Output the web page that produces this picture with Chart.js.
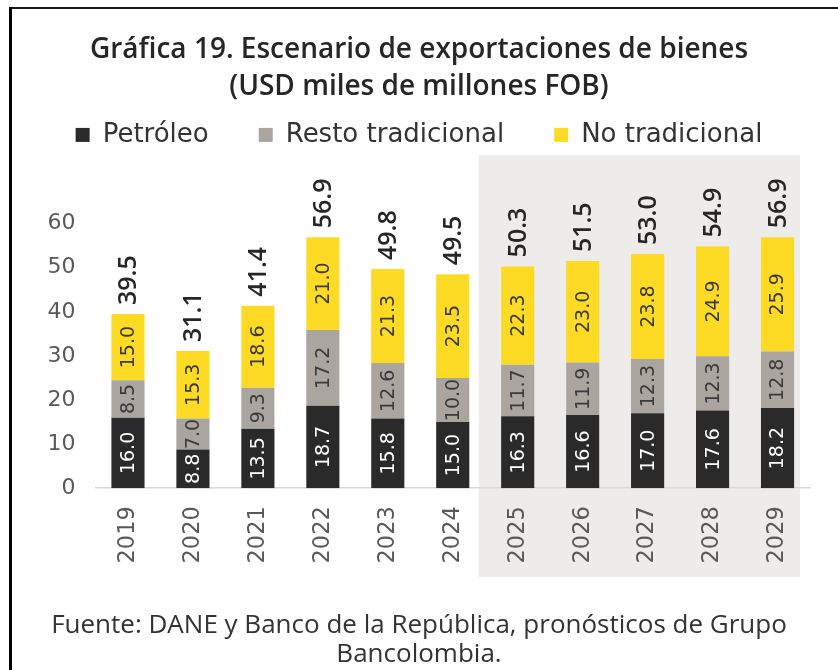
<!DOCTYPE html>
<html>
<head>
<meta charset="utf-8">
<script src="https://cdn.jsdelivr.net/npm/chart.js@4"></script>
<style>
  html, body { margin: 0; padding: 0; background: #fff; }
  #wrap { position: relative; width: 838px; height: 670px; overflow: hidden; }
  #c { position: absolute; left: 0; top: 0; }
  .frameTop { position: absolute; left: 9px; top: 7px; width: 829px; height: 2px; background: #1a1a1a; }
  .frameLeft { position: absolute; left: 9px; top: 7px; width: 3px; height: 663px; background: #000; }
</style>
</head>
<body>
<div id="wrap">
  <canvas id="c" width="838" height="670"></canvas>
  <div class="frameTop"></div>
  <div class="frameLeft"></div>
</div>
<script>
const categories = ['2019', '2020', '2021', '2022', '2023', '2024', '2025', '2026', '2027', '2028', '2029'];
const petroleo = [16.0, 8.8, 13.5, 18.7, 15.8, 15.0, 16.3, 16.6, 17.0, 17.6, 18.2];
const restoTradicional = [8.5, 7.0, 9.3, 17.2, 12.6, 10.0, 11.7, 11.9, 12.3, 12.3, 12.8];
const noTradicional = [15.0, 15.3, 18.6, 21.0, 21.3, 23.5, 22.3, 23.0, 23.8, 24.9, 25.9];
const totals = [39.5, 31.1, 41.4, 56.9, 49.8, 49.5, 50.3, 51.5, 53.0, 54.9, 56.9];
const yTicks = [0, 10, 20, 30, 40, 50, 60];
const yAxisMax = 74.9;
const forecastFirst = '2025';
const forecastLast = '2029';

const seriesNames = ['Petróleo', 'Resto tradicional', 'No tradicional'];
const seriesColors = ['#2a2a2a', '#aaa59f', '#fddb24'];
const labelColors = ['#ffffff', '#3a3a3a', '#3a3a3a'];

const forecastShade = {
  id: 'forecastShade',
  beforeDraw(chart) {
    const ctx = chart.ctx;
    const x = chart.scales.x;
    const i0 = categories.indexOf(forecastFirst);
    const i1 = categories.indexOf(forecastLast);
    const left = x.getPixelForValue(i0) - 39;
    const right = x.getPixelForValue(i1) + 22.5;
    ctx.save();
    ctx.fillStyle = '#edecea';
    ctx.fillRect(left, 155, right - left, 422);
    ctx.restore();
  }
};

const barLabels = {
  id: 'barLabels',
  afterDatasetsDraw(chart) {
    const ctx = chart.ctx;
    ctx.save();
    chart.data.datasets.forEach((ds, di) => {
      const meta = chart.getDatasetMeta(di);
      meta.data.forEach((bar, i) => {
        const v = ds.data[i];
        const cy = (bar.y + bar.base) / 2;
        ctx.save();
        ctx.translate(bar.x, cy);
        ctx.rotate(-Math.PI / 2);
        ctx.font = '19px "DejaVu Sans"';
        ctx.fillStyle = labelColors[di];
        ctx.textAlign = 'center';
        ctx.textBaseline = 'middle';
        ctx.fillText(v.toFixed(1), 0, 1);
        ctx.restore();
      });
    });
    const lastMeta = chart.getDatasetMeta(chart.data.datasets.length - 1);
    lastMeta.data.forEach((bar, i) => {
      ctx.save();
      ctx.translate(bar.x, bar.y - 9);
      ctx.rotate(-Math.PI / 2);
      ctx.font = '600 25px "Open Sans"';
      ctx.fillStyle = '#262626';
      ctx.textAlign = 'left';
      ctx.textBaseline = 'middle';
      ctx.fillText(totals[i].toFixed(1), 0, 1);
      ctx.restore();
    });
    ctx.restore();
  }
};

new Chart(document.getElementById('c'), {
  type: 'bar',
  data: {
    labels: categories,
    datasets: [
      { label: seriesNames[0], data: petroleo, backgroundColor: seriesColors[0] },
      { label: seriesNames[1], data: restoTradicional, backgroundColor: seriesColors[1] },
      { label: seriesNames[2], data: noTradicional, backgroundColor: seriesColors[2] }
    ]
  },
  options: {
    responsive: false,
    animation: false,
    devicePixelRatio: 1,
    layout: { padding: { left: 8, right: 8, top: 0, bottom: 0 } },
    datasets: { bar: { barPercentage: 0.51, categoryPercentage: 1.0 } },
    scales: {
      x: {
        stacked: true,
        grid: { display: false, drawTicks: false },
        border: { display: true, color: '#d9d9d9', width: 1.5 },
        ticks: {
          minRotation: 90, maxRotation: 90, padding: 18,
          color: '#595959', font: { family: 'DejaVu Sans', size: 22.5 }
        },
        afterFit(scale) { scale.height = 110; }
      },
      y: {
        stacked: true,
        min: 0, max: yAxisMax,
        grid: { display: false, drawTicks: false },
        border: { display: false },
        afterBuildTicks(scale) { scale.ticks = yTicks.map(v => ({ value: v })); },
        ticks: {
          padding: 20,
          color: '#595959', font: { family: 'DejaVu Sans', size: 22 }
        },
        afterFit(scale) { scale.width = 87.5; }
      },
      yRight: {
        position: 'right',
        display: true,
        grid: { display: false, drawTicks: false },
        border: { display: false },
        ticks: { display: false },
        afterFit(scale) { scale.width = 20; }
      }
    },
    plugins: {
      tooltip: { enabled: false },
      title: {
        display: true,
        text: ['Gráfica 19. Escenario de exportaciones de bienes', '(USD miles de millones FOB)'],
        color: '#262626',
        font: { family: 'Open Sans', size: 28, weight: '600', lineHeight: 1.32 },
        padding: { top: 32, bottom: -34 }
      },
      legend: {
        display: true,
        position: 'top',
        labels: {
          boxWidth: 14, boxHeight: 14, padding: 50,
          color: '#333333',
          font: { family: 'DejaVu Sans', size: 26 }
        }
      },
      subtitle: {
        display: true,
        position: 'bottom',
        text: ['Fuente: DANE y Banco de la República, pronósticos de Grupo', 'Bancolombia.'],
        color: '#333333',
        font: { family: 'Open Sans', size: 26, weight: '400', lineHeight: 1.15 },
        padding: { top: 12, bottom: 0 }
      }
    }
  },
  plugins: [forecastShade, barLabels]
});
</script>
</body>
</html>
